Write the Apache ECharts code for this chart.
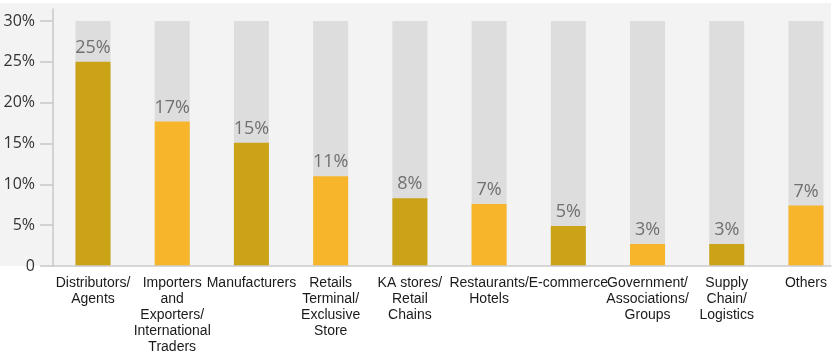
<!DOCTYPE html>
<html>
<head>
<meta charset="utf-8">
<script src="https://cdn.jsdelivr.net/npm/echarts@6/dist/echarts.min.js"></script>
<style>
  html, body { margin: 0; padding: 0; background: #fff; }
  #chart { width: 837px; height: 355px; }
</style>
</head>
<body>
<div id="chart"></div>
<script>
// categories (x axis)
var categories = [
  "Distributors/\nAgents",
  "Importers\nand\nExporters/\nInternational\nTraders",
  "Manufacturers",
  "Retails\nTerminal/\nExclusive\nStore",
  "KA stores/\nRetail\nChains",
  "Restaurants/\nHotels",
  "E-commerce",
  "Government/\nAssociations/\nGroups",
  "Supply\nChain/\nLogistics",
  "Others"
];
// share of respondents, %
var shareValues = [25, 17.7, 15.1, 11.0, 8.3, 7.6, 4.9, 2.7, 2.7, 7.4];
var shareLabels = ["25%", "17%", "15%", "11%", "8%", "7%", "5%", "3%", "3%", "7%"];
// y axis
var yTicks = [0, 5, 10, 15, 20, 25, 30];
var yTickLabels = ["0", "5%", "10%", "15%", "20%", "25%", "30%"];
var trackMax = 30;

var barColors = ["#cba316", "#f7b52c"];

var chart = echarts.init(document.getElementById("chart"));

var catIdx = categories.map(function (c, i) { return i; });

chart.setOption({
  animation: false,
  backgroundColor: "#ffffff",
  // light panel behind the plot
  graphic: [{
    type: "rect",
    z: 0,
    shape: { x: 0, y: 3, width: 831, height: 263 },
    style: { fill: "#f2f3f2" },
    silent: true
  }],
  grid: {
    left: 53,
    right: 6,
    top: 9,
    bottom: 89,
    containLabel: false
  },
  xAxis: {
    type: "value",
    min: -0.505,
    max: 9.316,
    z: 3,
    splitLine: { show: false },
    axisTick: { show: false },
    axisLine: { show: true, onZero: false, lineStyle: { color: "#cccccc", width: 1.5 } },
    axisLabel: {
      customValues: catIdx,
      margin: 9,
      color: "#1a1a1a",
      fontFamily: "Liberation Sans, Arial, sans-serif",
      fontSize: 14,
      lineHeight: 16,
      align: "center",
      verticalAlign: "top",
      formatter: function (v) { return categories[Math.round(v)] || ""; }
    }
  },
  yAxis: {
    type: "value",
    min: 0,
    max: 31.47,
    z: 3,
    splitLine: { show: false },
    axisLine: { show: true, onZero: false, lineStyle: { color: "#c8c8c8", width: 1.5 } },
    axisTick: {
      show: true,
      customValues: yTicks,
      length: 13,
      lineStyle: { color: "#c8c8c8", width: 1.5 }
    },
    axisLabel: {
      customValues: yTicks,
      margin: 18,
      color: "#333333",
      fontFamily: "Open Sans, sans-serif",
      fontSize: 16,
      formatter: function (v) {
        var i = yTicks.indexOf(v);
        return i >= 0 ? yTickLabels[i] : "";
      }
    }
  },
  series: [
    {
      // grey track behind each bar
      name: "track",
      type: "bar",
      barWidth: 35,
      barGap: "-100%",
      z: 1,
      silent: true,
      itemStyle: { color: "#dcdddc" },
      data: catIdx.map(function (i) { return [i, trackMax]; })
    },
    {
      name: "share",
      type: "bar",
      barWidth: 35,
      barGap: "-100%",
      z: 2,
      itemStyle: {
        color: function (p) { return barColors[p.dataIndex % 2]; }
      },
      label: {
        show: true,
        position: "top",
        distance: 5,
        color: "#707070",
        fontFamily: "Open Sans, sans-serif",
        fontSize: 18,
        formatter: function (p) { return shareLabels[p.dataIndex]; }
      },
      data: catIdx.map(function (i) { return [i, shareValues[i]]; })
    }
  ]
});
</script>
</body>
</html>
